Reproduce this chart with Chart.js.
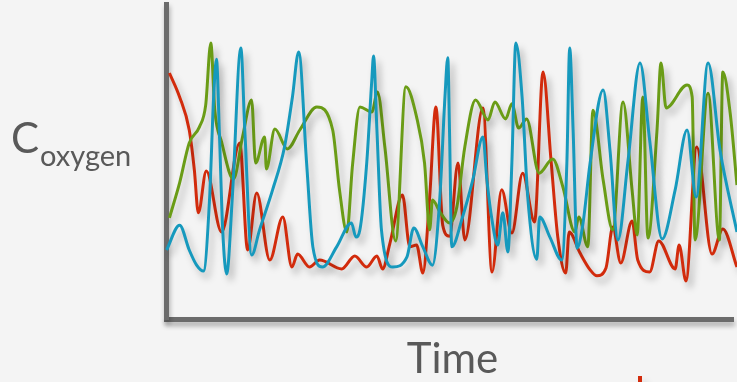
<!DOCTYPE html>
<html>
<head>
<meta charset="utf-8">
<script src="https://cdn.jsdelivr.net/npm/chart.js@4"></script>
<style>
html,body{margin:0;padding:0;background:#f4f4f4;}
#wrap{width:737px;height:382px;position:relative;}
canvas{display:block;}
</style>
</head>
<body>
<div id="wrap"><canvas id="c" width="737" height="382"></canvas></div>
<script>
// ---- data (time 0..100, concentration 0..100) ----
const redTime  = [0.6,2.4,4.1,5.0,5.7,7.1,9.8,13.0,14.4,16.0,18.3,20.6,22.2,23.2,25.3,27.1,31.0,33.3,35.4,37.2,38.2,39.5,41.7,43.0,44.2,45.3,46.5,47.6,48.8,50.0,51.5,52.7,55.9,57.5,59.2,61.0,62.9,65.0,66.5,67.9,69.1,70.5,71.1,73.0,74.8,76.0,77.6,78.8,80.2,82.2,83.2,85.3,86.9,89.8,90.5,91.7,93.6,96.3,98.2,100.7];
const redValue = [78.1,70.5,60.0,47.3,33.7,47.0,27.6,55.9,21.9,40.0,18.7,32.4,16.5,20.6,16.5,18.7,15.9,20.0,16.5,20.0,15.9,24.1,39.4,22.9,23.5,14.6,38.7,67.3,29.8,26.3,49.5,25.1,67.0,14.9,41.0,27.3,46.3,30.8,78.4,50.5,26.0,14.6,27.6,21.0,15.6,13.7,16.2,29.2,17.8,31.1,18.7,14.9,24.8,15.9,23.5,12.1,54.6,20.6,28.6,16.5];

const greenTime  = [0.6,2.4,4.1,5.9,7.0,7.9,8.6,9.8,11.9,13.5,15.1,15.8,17.4,17.7,19.2,21.4,23.6,26.6,29.4,30.6,31.9,32.9,34.2,36.3,37.3,38.6,40.5,42.3,44.2,45.6,46.5,47.0,48.3,50.0,51.3,52.7,54.6,56.8,58.0,59.9,61.0,62.2,63.6,65.8,68.2,70.0,72.1,72.8,74.4,75.3,77.1,78.8,80.6,82.2,83.1,84.1,85.0,86.6,87.3,88.2,91.9,92.8,93.3,95.6,97.6,98.2,99.5,100.7];
const greenValue = [32.1,43.2,55.9,61.0,67.9,87.6,66.3,56.2,44.4,57.8,69.5,49.5,57.8,47.6,60.3,54.0,60.0,67.3,60.0,41.0,27.6,48.9,67.3,65.7,72.1,54.6,24.8,73.7,64.1,49.5,28.3,37.8,34.0,30.5,35.6,54.6,69.5,63.2,68.9,63.5,68.3,60.6,63.5,46.3,50.8,41.9,27.6,32.4,22.9,66.3,44.1,28.3,68.9,41.0,26.7,70.5,25.7,60.0,81.3,67.0,74.3,70.5,25.1,71.7,25.1,78.4,65.4,42.5];

const blueTime  = [0.1,2.4,4.1,5.4,6.6,7.7,8.4,8.9,9.4,10.0,10.7,11.7,13.2,13.9,15.1,16.5,18.8,20.9,22.3,23.4,24.8,25.9,27.6,30.1,32.7,33.5,34.2,35.4,36.3,36.6,37.2,38.0,40.0,42.5,43.7,45.3,47.0,48.3,49.2,49.7,50.0,50.4,52.3,54.1,55.9,56.6,57.5,58.5,59.4,60.3,61.0,61.7,62.8,63.8,65.4,65.9,67.7,69.8,70.7,71.2,71.8,72.5,73.5,74.8,77.1,78.3,79.7,81.5,83.6,85.3,87.5,89.8,91.9,93.5,95.6,97.7,100.7];
const blueValue = [21.9,29.8,21.9,17.1,15.2,38.7,70.5,82.5,60.0,28.3,14.3,38.7,86.0,60.0,20.3,28.3,41.0,54.6,70.5,84.8,49.5,22.9,16.5,22.9,30.5,26.0,28.3,49.5,75.9,83.5,60.0,28.3,16.5,19.7,28.9,22.9,17.1,38.7,70.5,82.9,60.0,22.9,32.4,44.1,57.8,44.1,31.4,23.5,33.7,21.3,49.5,87.6,70.5,38.7,19.0,32.4,26.0,18.7,49.5,86.0,60.0,22.5,29.8,49.5,72.7,53.7,25.1,50.5,81.3,56.8,25.4,41.0,60.0,38.7,81.3,53.7,27.6];

// small red stroke peeking in at the bottom edge
const markTime  = [83.6, 83.6];
const markValue = [-18.1, -20.5];

const xTitle = 'Time';
const yTitleMain = 'C';
const yTitleSub = 'oxygen';

const toPts = (t, v) => t.map((x, i) => ({x: x, y: v[i]}));

const shadowPlugin = {
  id: 'shadowsAndTitles',
  beforeDraw(chart) {
    const ctx = chart.ctx;
    ctx.save();
    ctx.shadowColor = 'rgba(0,0,0,0.30)';
    ctx.shadowBlur = 5;
    ctx.shadowOffsetX = 1;
    ctx.shadowOffsetY = 4;
  },
  beforeDatasetsDraw(chart) {
    chart.ctx.restore();
  },
  beforeDatasetDraw(chart) {
    const ctx = chart.ctx;
    ctx.save();
    ctx.shadowColor = 'rgba(0,0,0,0.26)';
    ctx.shadowBlur = 7;
    ctx.shadowOffsetX = 4;
    ctx.shadowOffsetY = 6;
  },
  afterDatasetDraw(chart) {
    chart.ctx.restore();
  },
  afterDraw(chart) {
    const ctx = chart.ctx;
    const area = chart.chartArea;
    ctx.save();
    ctx.fillStyle = '#595959';
    ctx.textBaseline = 'alphabetic';
    ctx.textAlign = 'left';
    // y title with subscript
    ctx.font = '42px Lato';
    ctx.fillText(yTitleMain, 11, 153);
    const cw = ctx.measureText(yTitleMain).width;
    ctx.font = '29px Lato';
    ctx.fillText(yTitleSub, 11 + cw + 1, 166);
    // x title
    ctx.font = '42px Lato';
    ctx.textAlign = 'center';
    ctx.fillText(xTitle, (area.left + area.right) / 2 + 3, 373);
    ctx.restore();
  }
};

const common = {
  borderWidth: 3,
  pointRadius: 0,
  fill: false,
  cubicInterpolationMode: 'monotone',
  clip: false
};

new Chart(document.getElementById('c'), {
  type: 'line',
  data: {
    datasets: [
      Object.assign({label: 'blue', data: toPts(blueTime, blueValue), borderColor: '#1699bd'}, common),
      Object.assign({label: 'green', data: toPts(greenTime, greenValue), borderColor: '#6a9c16'}, common),
      Object.assign({label: 'red', data: toPts(redTime, redValue), borderColor: '#d22b0c'}, common),
      Object.assign({label: 'mark', data: toPts(markTime, markValue), borderColor: '#d22b0c'}, common, {borderWidth: 4, cubicInterpolationMode: 'default'})
    ]
  },
  options: {
    responsive: false,
    animation: false,
    devicePixelRatio: 1,
    layout: {padding: {left: 166, right: 4, top: 4, bottom: 63}},
    plugins: {legend: {display: false}, tooltip: {enabled: false}},
    scales: {
      x: {
        type: 'linear', min: 0, max: 100,
        ticks: {display: false},
        grid: {display: false, drawTicks: false},
        border: {display: true, color: '#6b6b6b', width: 5}
      },
      y: {
        type: 'linear', min: 0, max: 100,
        ticks: {display: false},
        grid: {display: false, drawTicks: false},
        border: {display: true, color: '#6b6b6b', width: 5}
      }
    }
  },
  plugins: [shadowPlugin]
});
</script>
</body>
</html>
